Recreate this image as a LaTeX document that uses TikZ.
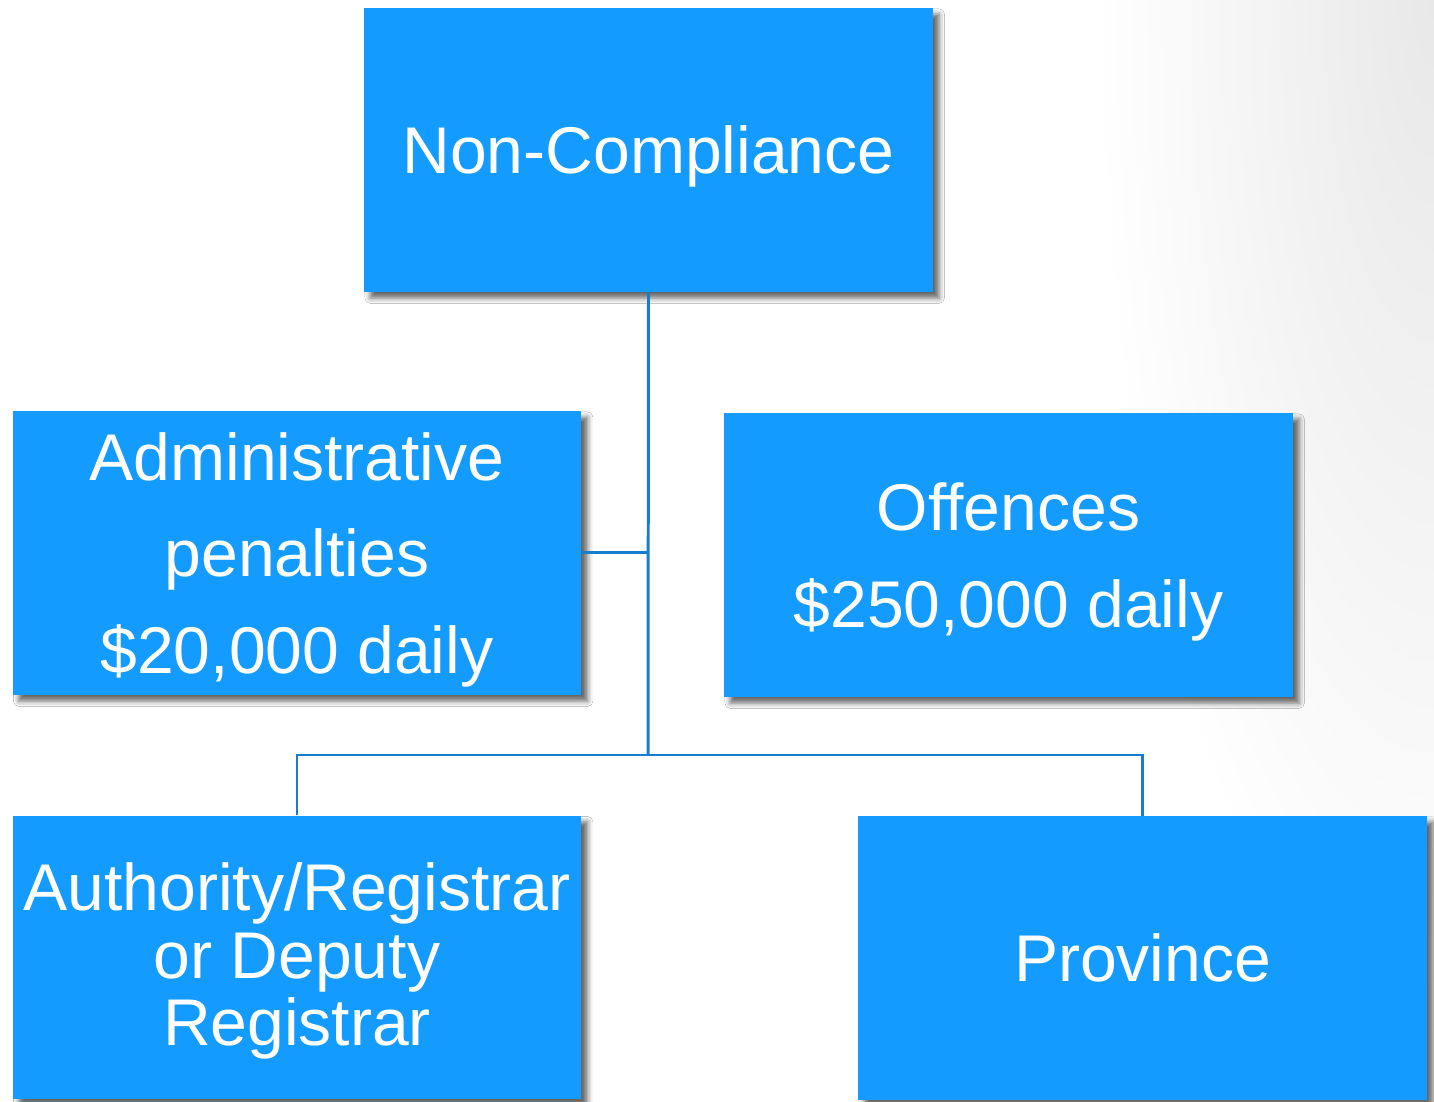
\documentclass[tikz,border=0pt]{standalone}
\usepackage{fontspec}
\setmainfont{Liberation Sans}
\usetikzlibrary{shadows.blur}
\definecolor{boxblue}{RGB}{20,155,255}
\definecolor{linkblue}{RGB}{22,126,204}
\begin{document}
\begin{tikzpicture}[x=0.02cm,y=0.02cm,
        box/.style={rectangle,fill=boxblue,text=white,align=center,
            minimum width=11.38cm,minimum height=5.68cm,inner sep=0pt,
            text depth=0pt,font=\fontsize{37.6}{55}\selectfont,
            blur shadow={shadow xshift=3.5pt,shadow yshift=-3.5pt,
                shadow blur radius=3pt,shadow opacity=60}},
        link/.style={draw=linkblue,line width=1.7pt}]
\useasboundingbox (0,0) rectangle (1434,1102);
\fill[white] (0,0) rectangle (1434,1102);
\begin{scope}
 \clip (0,0) rectangle (1434,1102);
 \shade[inner color=black!9,outer color=white] (1434,1102) ellipse (340 and 1050);
\end{scope}

\node[box] (top) at (648.5,952) {Non-Compliance};
\node[box] (admin) at (297,549) {Administrative\\penalties\\\$20,000 daily};
\node[box] (offence) at (1008.5,547) {Offences\\\$250,000 daily};
\node[box,text depth=3.5pt,font=\fontsize{37.6}{38.5}\selectfont] (auth) at (297,144.5)
    {Authority/Registrar\\or Deputy\\Registrar};
\node[box] (prov) at (1142.5,144) {Province};

\coordinate (split) at (648,347);
\coordinate (join) at (648,549);
\draw[link] (top.south) -- (split);
\draw[link] (admin.east) -- (join);
\draw[link] (auth.north) |- (split) -| (prov.north);
\end{tikzpicture}
\end{document}
